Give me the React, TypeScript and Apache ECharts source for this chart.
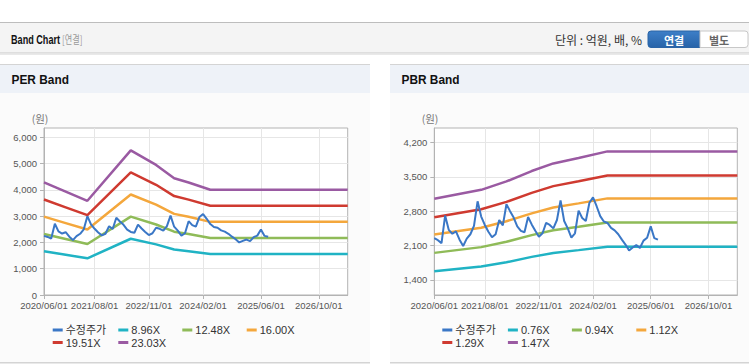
import React, { useEffect, useRef } from 'react';
import * as echarts from 'echarts';

// ---- categories (monthly, 2020/06 .. 2027/06) ----
const CATEGORIES: string[] = [];
for (let i = 0; i < 85; i++) {
  const m = 5 + i;
  const y = 2020 + Math.floor(m / 12);
  const mm = (m % 12) + 1;
  CATEGORIES.push(`${y}/${String(mm).padStart(2, '0')}/01`);
}
const X_TICK_LABELS = ['2020/06/01', '2021/08/01', '2022/11/01', '2024/02/01', '2025/06/01', '2026/10/01'];

// ---- adjusted price (수정주가), monthly from 2020/06 ----
const PRICE = [
  2250, 2210, 2150, 2710, 2420, 2340, 2390, 2220, 2090, 2240,
  2330, 2500, 3000, 2690, 2520, 2380, 2270, 2330, 2620, 2510,
  2940, 2800, 2670, 2490, 2400, 2370, 2680, 2530, 2400, 2280,
  2350, 2560, 2520, 2450, 2620, 3020, 2600, 2450, 2260, 2350,
  2810, 2660, 2600, 2970, 3080, 2900, 2700, 2590, 2560, 2460,
  2410, 2330, 2220, 2120, 2000, 2060, 2110, 2050, 2200, 2260,
  2490, 2250, 2220,
];

// ---- PER band vertices ----
const PER_DATES = ['2020/06/01', '2020/12/01', '2021/06/01', '2022/06/01', '2023/01/01', '2023/06/01', '2023/10/01', '2024/04/01', '2027/06/01'];
const PER_NAMES = ['8.96X', '12.48X', '16.00X', '19.51X', '23.03X'];
const PER_0896 = [1669, 1532, 1395, 2141, 1926, 1729, 1667, 1559, 1559];
const PER_1248 = [2325, 2134, 1943, 2983, 2683, 2409, 2321, 2172, 2172];
const PER_1600 = [2981, 2736, 2491, 3824, 3440, 3088, 2976, 2784, 2784];
const PER_1951 = [3635, 3336, 3038, 4663, 4195, 3765, 3629, 3395, 3395];
const PER_2303 = [4290, 3938, 3586, 5504, 4951, 4445, 4284, 4007, 4007];
const PER_Y_TICKS = [0, 1000, 2000, 3000, 4000, 5000, 6000];

// ---- PBR band vertices ----
const PBR_DATES = ['2020/06/01', '2021/07/01', '2022/02/01', '2022/09/01', '2023/03/01', '2023/10/01', '2024/06/01', '2027/06/01'];
const PBR_NAMES = ['0.76X', '0.94X', '1.12X', '1.29X', '1.47X'];
const PBR_076 = [1578, 1672, 1760, 1870, 1949, 2007, 2076, 2076];
const PBR_094 = [1951, 2068, 2177, 2312, 2411, 2483, 2568, 2568];
const PBR_112 = [2325, 2464, 2594, 2755, 2873, 2958, 3060, 3060];
const PBR_129 = [2678, 2838, 2988, 3173, 3309, 3407, 3524, 3524];
const PBR_147 = [3052, 3234, 3405, 3616, 3771, 3882, 4016, 4016];
const PBR_Y_TICKS = [1400, 2100, 2800, 3500, 4200];

const PRICE_NAME = '수정주가';
const PRICE_COLOR = '#3a77c6';
const BAND_COLORS = ['#20b3c4', '#8fbb58', '#f4a73c', '#cf3a30', '#9a5aa2'];

const FONT = "'Liberation Sans', Arial, 'Noto Sans CJK KR', sans-serif";
const KFONT = "'Noto Sans CJK KR', 'Liberation Sans', sans-serif";

// legend slot layout (x of icon, y of row top)
const LEG_COL_OFFSETS = [0, 65.6, 129.6, 194];
const LEG_ROW_TOPS = [324.5, 337];

function bandSeries(names: string[], dates: string[], bands: number[][], axisIndex: number) {
  return names.map((name, k) => ({
    name,
    type: 'line',
    xAxisIndex: axisIndex,
    yAxisIndex: axisIndex,
    symbol: 'none',
    z: 2,
    lineStyle: { width: 2.5, color: BAND_COLORS[k] },
    itemStyle: { color: BAND_COLORS[k] },
    data: dates.map((d, i) => [CATEGORIES.indexOf(d), bands[k][i]]),
  }));
}

function priceSeries(axisIndex: number) {
  return {
    name: PRICE_NAME,
    type: 'line',
    xAxisIndex: axisIndex,
    yAxisIndex: axisIndex,
    symbol: 'none',
    z: 3,
    lineStyle: { width: 2, color: PRICE_COLOR },
    itemStyle: { color: PRICE_COLOR },
    data: PRICE.map((v, i) => [i, v]),
  };
}

function xAxis(gridIndex: number) {
  const show = (_i: number, v: string) => X_TICK_LABELS.includes(v);
  return {
    type: 'category',
    gridIndex,
    data: CATEGORIES,
    boundaryGap: false,
    axisLine: { lineStyle: { color: '#b3b3b3', width: 1 } },
    axisTick: { show: true, interval: show, length: 4, lineStyle: { color: '#b3b3b3' } },
    axisLabel: { interval: show, color: '#555', fontSize: 9.5, fontFamily: FONT, margin: 6 },
    splitLine: { show: true, interval: show, lineStyle: { color: '#e6e6e6', width: 1 } },
  };
}

function yAxis(gridIndex: number, min: number, max: number, ticks: number[]) {
  return {
    type: 'value',
    gridIndex,
    min,
    max,
    axisLine: { show: true, lineStyle: { color: '#b3b3b3', width: 1 } },
    axisTick: { show: true, length: 4, customValues: ticks, lineStyle: { color: '#b3b3b3' } },
    axisLabel: {
      customValues: ticks,
      color: '#555',
      fontSize: 9.5,
      fontFamily: FONT,
      margin: 7,
      formatter: (v: number) => v.toLocaleString('en-US'),
    },
    splitLine: { show: true, lineStyle: { color: '#e6e6e6', width: 1 } },
  };
}

function legendItems(x0: number, names: string[]) {
  return names.map((name, i) => ({
    left: x0 + LEG_COL_OFFSETS[i % 4],
    top: LEG_ROW_TOPS[Math.floor(i / 4)],
    padding: 0,
    data: [name],
    icon: 'rect',
    itemWidth: 10,
    itemHeight: 3,
    itemGap: 0,
    selectedMode: false,
    textStyle: { color: '#333', fontSize: 11, fontFamily: FONT, padding: [0, 0, 0, -2] },
  }));
}

function panel(x: number, w: number, title: string) {
  return [
    { type: 'rect', z: -10, shape: { x, y: 64, width: w, height: 1 }, style: { fill: '#d4d4d4' } },
    { type: 'rect', z: -10, shape: { x, y: 65, width: w, height: 28 }, style: { fill: '#eef2f8' } },
    { type: 'rect', z: -10, shape: { x, y: 93, width: w, height: 269 }, style: { fill: '#fbfbfb' } },
    { type: 'rect', z: -10, shape: { x, y: 362, width: w, height: 1.5 }, style: { fill: '#d4d4d4' } },
    {
      type: 'text', z: 10, x: x + 11.5, y: 80, scaleX: 0.95,
      style: { text: title, fill: '#111', font: `bold 12.5px ${FONT}`, verticalAlign: 'middle', align: 'left' },
    },
  ];
}

export default function App() {
  const ref = useRef<HTMLDivElement>(null);
  useEffect(() => {
    if (!ref.current) return;
    const chart = echarts.init(ref.current, undefined, { renderer: 'svg' });
    const option: any = {
      animation: false,
      backgroundColor: '#ffffff',
      graphic: [
        { type: 'rect', z: -10, shape: { x: 0, y: 22, width: 749, height: 1 }, style: { fill: '#bdbdbd' } },
        { type: 'rect', z: -10, shape: { x: 0, y: 23, width: 749, height: 29.5 }, style: { fill: '#f4f4f4' } },
        { type: 'rect', z: -10, shape: { x: 0, y: 52.5, width: 749, height: 1 }, style: { fill: '#c4c4c4' } },
        { type: 'rect', z: -10, shape: { x: 0, y: 53.5, width: 749, height: 1.5 }, style: { fill: '#e9e9e9' } },
        {
          type: 'text', z: 10, x: 11, y: 39.5, scaleX: 0.7,
          style: { text: 'Band Chart', fill: '#111', font: `bold 13px ${FONT}`, verticalAlign: 'middle' },
        },
        {
          type: 'text', z: 10, x: 62, y: 39.5, scaleX: 0.74,
          style: { text: '[연결]', fill: '#999', font: `11px ${KFONT}`, verticalAlign: 'middle' },
        },
        {
          type: 'text', z: 10, x: 642, y: 39,
          style: { text: '단위 : 억원, 배, %', fill: '#333', font: `12px ${KFONT}`, verticalAlign: 'middle', align: 'right' },
        },
        {
          type: 'rect', z: 5, shape: { x: 648, y: 31, width: 52, height: 16.5, r: [3, 0, 0, 3] },
          style: {
            fill: new echarts.graphic.LinearGradient(0, 0, 0, 1, [
              { offset: 0, color: '#3d7fc8' },
              { offset: 1, color: '#2763a8' },
            ]),
            stroke: '#2a64a6', lineWidth: 1,
          },
        },
        {
          type: 'text', z: 10, x: 674, y: 39.5,
          style: { text: '연결', fill: '#ffffff', font: `bold 11px ${KFONT}`, verticalAlign: 'middle', align: 'center' },
        },
        {
          type: 'rect', z: 5, shape: { x: 700, y: 31, width: 48, height: 16.5, r: [0, 3, 3, 0] },
          style: { fill: '#ffffff', stroke: '#c8c8c8', lineWidth: 1 },
        },
        {
          type: 'text', z: 10, x: 719, y: 39.5,
          style: { text: '별도', fill: '#666', font: `bold 11px ${KFONT}`, verticalAlign: 'middle', align: 'center' },
        },
        ...panel(0, 370, 'PER Band'),
        ...panel(390, 359, 'PBR Band'),
        {
          type: 'text', z: 10, x: 40, y: 118,
          style: { text: '(원)', fill: '#777', font: `10.5px ${KFONT}`, verticalAlign: 'middle', align: 'center' },
        },
        {
          type: 'text', z: 10, x: 430, y: 118,
          style: { text: '(원)', fill: '#777', font: `10.5px ${KFONT}`, verticalAlign: 'middle', align: 'center' },
        },
      ],
      grid: [
        { left: 44, top: 128, width: 303.7, height: 167, show: true, backgroundColor: '#ffffff', borderColor: '#b3b3b3', borderWidth: 1 },
        { left: 434.3, top: 128, width: 303, height: 167, show: true, backgroundColor: '#ffffff', borderColor: '#b3b3b3', borderWidth: 1 },
      ],
      xAxis: [xAxis(0), xAxis(1)],
      yAxis: [yAxis(0, 0, 6356, PER_Y_TICKS), yAxis(1, 1094, 4492, PBR_Y_TICKS)],
      legend: [
        ...legendItems(52.7, [PRICE_NAME, ...PER_NAMES]),
        ...legendItems(442.3, [PRICE_NAME, ...PBR_NAMES]),
      ],
      series: [
        priceSeries(0),
        ...bandSeries(PER_NAMES, PER_DATES, [PER_0896, PER_1248, PER_1600, PER_1951, PER_2303], 0),
        priceSeries(1),
        ...bandSeries(PBR_NAMES, PBR_DATES, [PBR_076, PBR_094, PBR_112, PBR_129, PBR_147], 1),
      ],
    };
    chart.setOption(option);
    return () => chart.dispose();
  }, []);
  return (
    <div
      ref={ref}
      style={{ position: 'fixed', left: 0, top: 0, width: 749, height: 364, background: '#fff' }}
    />
  );
}
